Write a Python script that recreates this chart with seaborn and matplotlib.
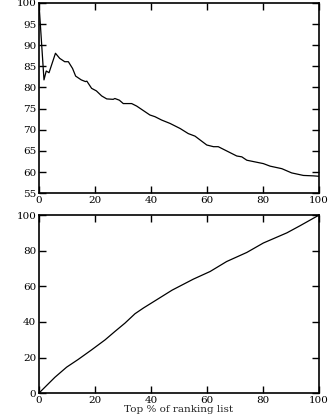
import numpy as np
import pandas as pd
import matplotlib
matplotlib.use("Agg")
import matplotlib.pyplot as plt
import seaborn as sns

# Top panel: precision-like curve vs top % of ranking list
top_x = [0, 1.8, 2.6, 3.6, 5.9, 7.4, 9.2, 10.5, 12.0, 13.1, 15.1, 16.6, 17.1, 18.8,
         20.5, 22.4, 24.2, 26.5, 27.1, 28.7, 30.1, 33.1, 34.9, 39.6, 41.4, 43.8,
         46.8, 50.4, 53.3, 55.7, 59.9, 62.3, 64.0, 67.6, 70.6, 72.4, 74.2, 80.1,
         82.5, 86.7, 90.2, 94.4, 98.0, 100]
top_y = [100, 81.8, 83.9, 83.5, 88.1, 86.9, 86.1, 86.1, 84.5, 82.7, 81.8, 81.4, 81.5, 79.8,
         79.2, 78.0, 77.3, 77.2, 77.4, 77.0, 76.2, 76.2, 75.6, 73.5, 73.1, 72.3,
         71.5, 70.3, 69.1, 68.5, 66.4, 66.0, 66.0, 64.8, 63.8, 63.6, 62.8, 62.0,
         61.4, 60.8, 59.8, 59.2, 59.1, 59.0]

# Bottom panel: cumulative coverage vs top % of ranking list
bot_x = [0, 5.7, 9.9, 14.0, 18.8, 23.6, 27.1, 30.7, 34.3, 37.3, 42.0,
         47.5, 55.1, 61.1, 67.0, 74.2, 80.1, 88.5, 93.2, 100]
bot_y = [0, 8.9, 14.6, 18.9, 24.3, 29.9, 34.6, 39.3, 44.6, 47.8, 52.4,
         57.8, 64.0, 68.3, 73.9, 79.0, 84.3, 90.0, 94.0, 100]

xticks = [0, 20, 40, 60, 80, 100]
top_yticks = [55, 60, 65, 70, 75, 80, 85, 90, 95, 100]
bot_yticks = [0, 20, 40, 60, 80, 100]

sns.set_style("ticks")
plt.rcParams['font.family'] = ['DejaVu Serif']
plt.rcParams['font.size'] = 7.5

fig = plt.figure(figsize=(3.3, 4.2), dpi=100)
ax1 = fig.add_axes([0.118, 0.540, 0.849, 0.453])
ax2 = fig.add_axes([0.118, 0.064, 0.849, 0.424])

df_top = pd.DataFrame({"x": top_x, "y": top_y})
df_bot = pd.DataFrame({"x": bot_x, "y": bot_y})

sns.lineplot(data=df_top, x="x", y="y", ax=ax1, color="black", linewidth=0.9)
sns.lineplot(data=df_bot, x="x", y="y", ax=ax2, color="black", linewidth=0.9)

for ax, yt in [(ax1, top_yticks), (ax2, bot_yticks)]:
    ax.set_xlim(0, 100)
    ax.set_ylim(yt[0], yt[-1])
    ax.set_xticks(xticks)
    ax.set_yticks(yt)
    ax.set_ylabel("")
    ax.set_xlabel("")
    ax.tick_params(direction="in", length=5, width=1.0, top=True, right=True,
                   labelsize=7.5, colors="black", pad=2)
    for s in ax.spines.values():
        s.set_visible(True)
        s.set_linewidth(1.2)
        s.set_color("black")

ax2.set_xlabel("Top % of ranking list", fontsize=7.5, labelpad=0)

fig.savefig("out.png", dpi=100)
